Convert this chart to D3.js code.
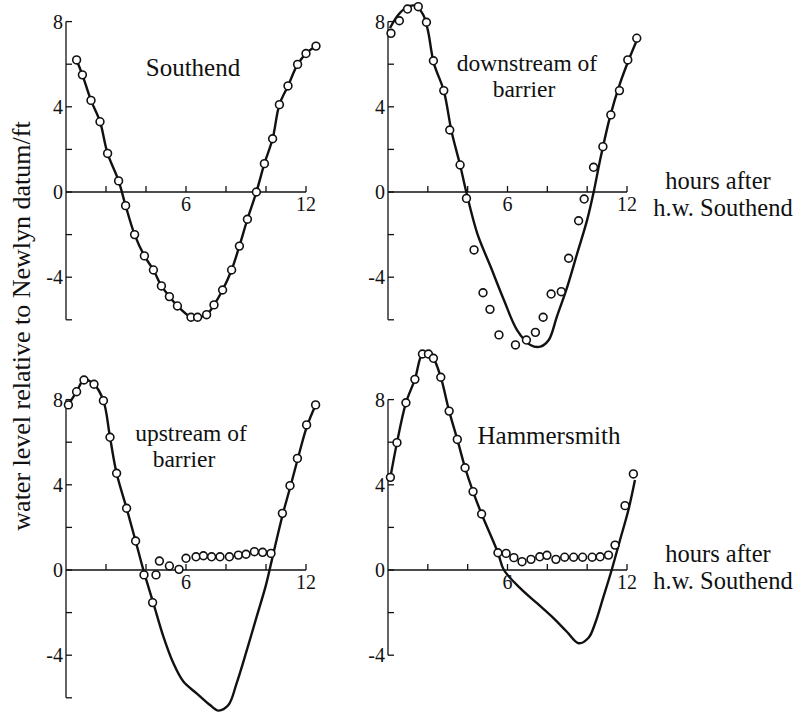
<!DOCTYPE html>
<html>
<head>
<meta charset="utf-8">
<script src="https://cdn.jsdelivr.net/npm/d3@7/dist/d3.min.js"></script>
<style>
  html, body { margin: 0; padding: 0; background: #fff; }
  svg { display: block; }
  text { font-family: "Liberation Serif", "DejaVu Serif", serif; fill: #111; }
</style>
</head>
<body>
<svg id="chart" width="803" height="722"></svg>
<script>
// Tidal water levels (ft relative to Newlyn datum) against hours after high water at Southend.

// Southend: observed levels (the curve runs through them)
const southendHours = [0.53, 0.82, 1.25, 1.7, 2.08, 2.63, 2.98, 3.43, 3.92, 4.37, 4.77, 5.17, 5.57, 6.25, 6.58, 7.03, 7.4, 7.83, 8.28, 8.67, 9.07, 9.52, 9.92, 10.33, 10.67, 11.1, 11.58, 12.0, 12.5];
const southendLevel = [6.2, 5.5, 4.3, 3.3, 1.81, 0.52, -0.64, -2.0, -3.0, -3.66, -4.41, -4.91, -5.35, -5.88, -5.88, -5.76, -5.3, -4.6, -3.66, -2.54, -1.28, 0.0, 1.33, 2.5, 4.1, 4.98, 5.99, 6.5, 6.85];

// Downstream of barrier: observed points and natural tide curve
const downObsHours = [0.15, 0.57, 0.98, 1.52, 1.93, 2.28, 2.8, 3.1, 3.62, 3.94, 4.32, 4.77, 5.12, 5.57, 6.4, 6.95, 7.4, 7.79, 8.19, 8.7, 9.07, 9.57, 9.85, 10.32, 10.79, 11.19, 11.62, 12.04, 12.49];
const downObsLevel = [7.45, 8.04, 8.59, 8.7, 7.97, 6.16, 4.76, 2.91, 1.27, -0.3, -2.72, -4.73, -5.51, -6.71, -7.18, -6.95, -6.59, -5.88, -4.79, -4.68, -3.11, -1.35, -0.33, 1.16, 2.13, 3.62, 4.76, 6.2, 7.22];
const downCurveHours = [0.1, 0.5, 0.9, 1.35, 1.75, 2.0, 2.3, 2.8, 3.2, 3.62, 3.93, 4.48, 5.15, 5.82, 6.48, 7.15, 7.65, 8.07, 8.48, 9.0, 9.5, 10.0, 10.32, 10.65, 11.15, 11.65, 12.15, 12.57];
const downCurveLevel = [7.7, 8.3, 8.65, 8.75, 8.35, 7.6, 6.05, 4.76, 2.8, 1.27, 0.0, -1.94, -3.5, -5.07, -6.48, -7.18, -7.26, -6.95, -5.85, -4.45, -2.88, -1.31, -0.03, 1.5, 3.54, 5.1, 6.35, 7.29];

// Upstream of barrier: observed points and natural tide curve
const upObsHours = [0.12, 0.53, 0.9, 1.4, 1.87, 2.2, 2.53, 3.03, 3.48, 3.9, 4.33, 4.5, 4.67, 5.17, 5.65, 6.0, 6.5, 6.87, 7.28, 7.7, 8.17, 8.62, 9.0, 9.42, 9.83, 10.25, 10.82, 11.2, 11.57, 12.03, 12.48];
const upObsLevel = [7.75, 8.37, 8.92, 8.72, 7.95, 6.23, 4.54, 2.9, 1.36, -0.23, -1.53, -0.23, 0.42, 0.19, 0.03, 0.55, 0.62, 0.67, 0.62, 0.62, 0.62, 0.7, 0.74, 0.86, 0.83, 0.78, 2.66, 3.96, 5.24, 6.81, 7.75];
const upCurveHours = [0.12, 0.53, 0.9, 1.4, 1.87, 2.2, 2.53, 3.03, 3.48, 3.9, 4.37, 4.87, 5.37, 5.87, 6.53, 7.2, 7.62, 8.12, 8.53, 9.03, 9.53, 10.0, 10.3, 10.82, 11.2, 11.57, 12.03, 12.48];
const upCurveLevel = [7.75, 8.37, 8.92, 8.72, 7.95, 6.23, 4.54, 2.9, 1.36, -0.1, -1.56, -3.13, -4.38, -5.24, -5.79, -6.34, -6.6, -6.34, -5.32, -3.8, -2.2, -0.7, 0.5, 2.55, 3.85, 5.15, 6.7, 7.75];

// Hammersmith: observed points and natural tide curve
const hamObsHours = [0.12, 0.45, 0.9, 1.35, 1.73, 2.03, 2.28, 2.65, 3.07, 3.48, 3.87, 4.27, 4.7, 5.52, 5.93, 6.32, 6.73, 7.18, 7.62, 7.98, 8.43, 8.87, 9.32, 9.77, 10.25, 10.65, 11.07, 11.4, 11.9, 12.32];
const hamObsLevel = [4.35, 5.98, 7.85, 8.95, 10.14, 10.14, 9.94, 9.05, 7.46, 6.13, 4.8, 3.68, 2.63, 0.81, 0.78, 0.58, 0.39, 0.5, 0.62, 0.69, 0.5, 0.6, 0.6, 0.6, 0.6, 0.62, 0.7, 1.17, 3.02, 4.51];
const hamCurveHours = [0.12, 0.45, 0.9, 1.35, 1.73, 2.03, 2.28, 2.65, 3.07, 3.48, 3.87, 4.27, 4.7, 5.52, 5.82, 6.65, 7.48, 8.32, 8.98, 9.57, 10.07, 10.4, 10.82, 11.23, 11.65, 12.07, 12.4];
const hamCurveLevel = [4.35, 5.98, 7.85, 8.95, 10.14, 10.14, 9.94, 9.05, 7.46, 6.13, 4.8, 3.68, 2.63, 0.81, 0.0, -0.86, -1.56, -2.27, -2.9, -3.44, -3.18, -2.5, -1.25, 0.0, 1.41, 2.82, 4.23];

// Axis ticks
const xTickHours = [2, 4, 6, 8, 10, 12];
const xTickLabelHours = [6, 12];
const yLabelStep = 4;
const yTickStep = 2;

const svg = d3.select("#chart");
svg.append("rect").attr("width", 803).attr("height", 722).attr("fill", "#fff");

const zip = (xs, ys) => xs.map((h, i) => [h, ys[i]]);

const panels = [
  { x0: 66,  x1: 306, y0: 192, yMin: -6, yMax: 8,
    obs: zip(southendHours, southendLevel), curve: zip(southendHours, southendLevel),
    title: [{ t: "Southend", x: 193, y: 76, s: 25 }] },
  { x0: 388, x1: 627, y0: 192, yMin: -6, yMax: 8,
    obs: zip(downObsHours, downObsLevel), curve: zip(downCurveHours, downCurveLevel),
    title: [{ t: "downstream of", x: 527, y: 71, s: 23.5 }, { t: "barrier", x: 524, y: 97, s: 23.5 }],
    hoursTitleY: [189, 216] },
  { x0: 66,  x1: 306, y0: 570, yMin: -6, yMax: 8,
    obs: zip(upObsHours, upObsLevel), curve: zip(upCurveHours, upCurveLevel),
    title: [{ t: "upstream of", x: 191, y: 441, s: 23.5 }, { t: "barrier", x: 184, y: 467, s: 23.5 }] },
  { x0: 388, x1: 627, y0: 570, yMin: -4, yMax: 8,
    obs: zip(hamObsHours, hamObsLevel), curve: zip(hamCurveHours, hamCurveLevel),
    title: [{ t: "Hammersmith", x: 549, y: 444, s: 25 }],
    hoursTitleY: [562, 589] }
];

const pxPerFt = 21.3;

panels.forEach(p => {
  const x = d3.scaleLinear().domain([0, 12]).range([p.x0, p.x1]);
  const y = d3.scaleLinear().domain([0, 1]).range([p.y0, p.y0 - pxPerFt]);
  const g = svg.append("g");

  // y axis with inward ticks every 2 ft
  g.append("line")
    .attr("x1", x(0)).attr("x2", x(0))
    .attr("y1", y(p.yMin)).attr("y2", y(p.yMax))
    .attr("stroke", "#111").attr("stroke-width", 1.3);
  const yTicks = d3.range(p.yMin, p.yMax + 0.001, yTickStep);
  g.selectAll(".yt").data(yTicks).enter().append("line")
    .attr("x1", x(0)).attr("x2", x(0) + 6)
    .attr("y1", d => y(d)).attr("y2", d => y(d))
    .attr("stroke", "#111").attr("stroke-width", 1.3);
  g.selectAll(".yl").data(yTicks.filter(d => d % yLabelStep === 0)).enter().append("text")
    .attr("x", x(0) - 3).attr("y", d => y(d)).attr("dy", "0.35em")
    .attr("text-anchor", "end").attr("font-size", 20)
    .text(d => d < 0 ? "-" + Math.abs(d) : d);

  // x axis along zero level with upward ticks
  g.append("line")
    .attr("x1", x(0)).attr("x2", x(12))
    .attr("y1", y(0)).attr("y2", y(0))
    .attr("stroke", "#111").attr("stroke-width", 1.3);
  g.selectAll(".xt").data(xTickHours).enter().append("line")
    .attr("x1", d => x(d)).attr("x2", d => x(d))
    .attr("y1", y(0)).attr("y2", y(0) - 6)
    .attr("stroke", "#111").attr("stroke-width", 1.3);
  g.selectAll(".xl").data(xTickLabelHours).enter().append("text")
    .attr("x", d => x(d)).attr("y", y(0) + 19)
    .attr("text-anchor", "middle").attr("font-size", 20)
    .text(d => d);

  // tide curve
  const line = d3.line()
    .x(d => x(d[0])).y(d => y(d[1]))
    .curve(d3.curveCatmullRom.alpha(0.5));
  g.append("path").datum(p.curve)
    .attr("d", line)
    .attr("fill", "none").attr("stroke", "#111")
    .attr("stroke-width", 2.4).attr("stroke-linejoin", "round");

  // observed levels
  g.selectAll(".pt").data(p.obs).enter().append("circle")
    .attr("cx", d => x(d[0])).attr("cy", d => y(d[1]))
    .attr("r", 3.9)
    .attr("fill", "#fff").attr("stroke", "#111").attr("stroke-width", 1.6);

  // panel title
  p.title.forEach(t => {
    g.append("text").attr("x", t.x).attr("y", t.y)
      .attr("text-anchor", "middle").attr("font-size", t.s).text(t.t);
  });

  // time-axis title to the right of the panel
  if (p.hoursTitleY) {
    g.append("text").attr("x", 718).attr("y", p.hoursTitleY[0])
      .attr("text-anchor", "middle").attr("font-size", 24.5).text("hours after");
    g.append("text").attr("x", 723).attr("y", p.hoursTitleY[1])
      .attr("text-anchor", "middle").attr("font-size", 24.5).text("h.w. Southend");
  }
});

// shared level title
svg.append("text")
  .attr("transform", "translate(30,326) rotate(-90)")
  .attr("text-anchor", "middle").attr("font-size", 26)
  .text("water level relative to Newlyn datum/ft");
</script>
</body>
</html>
